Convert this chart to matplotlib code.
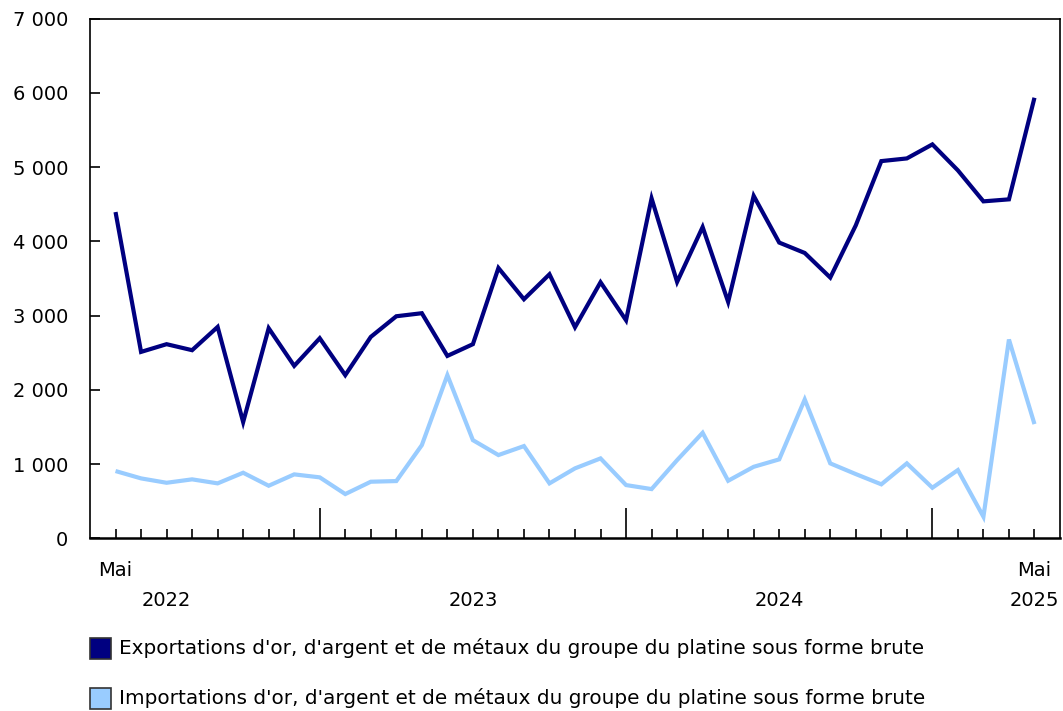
import matplotlib
matplotlib.use("Agg")
import matplotlib.pyplot as plt
import matplotlib.transforms as mtransforms
from matplotlib.patches import Rectangle

plt.rcParams["font.family"] = ["DejaVu Sans"]

W, H = 1063, 711

# ---- data: May 2022 .. May 2025 (monthly) ----
months = list(range(37))
exports = [4394, 2511, 2615, 2534, 2847, 1566, 2830, 2323, 2695, 2198,
           2713, 2991, 3032, 2457, 2615, 3641, 3220, 3556, 2843, 3449,
           2937, 4578, 3453, 4192, 3184, 4612, 3983, 3843, 3512, 4215,
           5080, 5116, 5305, 4955, 4538, 4565, 5933]
imports = [907, 808, 749, 795, 741, 884, 709, 862, 822, 597,
           763, 772, 1256, 2198, 1323, 1122, 1243, 741, 943, 1077,
           718, 664, 1054, 1422, 776, 964, 1064, 1871, 1010, 866,
           728, 1010, 682, 920, 292, 2678, 1539]
labels = ["Exportations d'or, d'argent et de métaux du groupe du platine sous forme brute",
          "Importations d'or, d'argent et de métaux du groupe du platine sous forme brute"]
colors = ["#000080", "#99CCFF"]
yticks = [0, 1000, 2000, 3000, 4000, 5000, 6000, 7000]
year_ticks = [8, 20, 32]
year_labels = [(2, "2022"), (14, "2023"), (26, "2024"), (36, "2025")]
month_labels = [(0, "Mai"), (36, "Mai")]

fig = plt.figure(figsize=(W / 100, H / 100), dpi=100)
ax = fig.add_axes([90 / W, (H - 538.4) / H, 970 / W, (538.4 - 18.5) / H])

for vals, c in zip([exports, imports], colors):
    ax.plot(months, vals, color=c, lw=3, solid_joinstyle="miter",
            solid_capstyle="butt", zorder=3)

ax.set_xlim(-1, 37)
ax.set_ylim(0, 7000)
ax.set_yticks(yticks)
ax.set_yticklabels([f"{v:,}".replace(",", " ") for v in yticks], fontsize=14)
ax.tick_params(axis="y", direction="in", length=7.2, width=1.2, pad=15.5)

# month ticks (short) + year boundary ticks (long)
ax.set_xticks([m for m in months if m not in year_ticks], minor=True)
ax.set_xticks(year_ticks)
ax.set_xticklabels([])
ax.tick_params(axis="x", which="minor", direction="in", length=6.5, width=1.2)
ax.tick_params(axis="x", which="major", direction="in", length=21.6, width=1.2)

for s in ax.spines.values():
    s.set_linewidth(1.2)
ax.spines["bottom"].set_linewidth(1.8)

trans = mtransforms.blended_transform_factory(ax.transData, fig.transFigure)
for m, t in month_labels:
    ax.text(m, 1 - 571 / H, t, transform=trans, ha="center", va="center", fontsize=14)
for m, t in year_labels:
    ax.text(m, 1 - 600 / H, t, transform=trans, ha="center", va="center", fontsize=14)

# legend (bottom)
for i, (lab, c) in enumerate(zip(labels, colors)):
    yc = 648.5 + 50 * i
    fig.add_artist(Rectangle((89.5 / W, 1 - (yc + 10.7) / H), 21.5 / W, 21.4 / H,
                             transform=fig.transFigure, facecolor=c,
                             edgecolor="#333333", lw=1.2))
    fig.text(119.3 / W, 1 - yc / H, lab, ha="left", va="center", fontsize=14.4)

fig.savefig("out.png", dpi=100, facecolor="white")
